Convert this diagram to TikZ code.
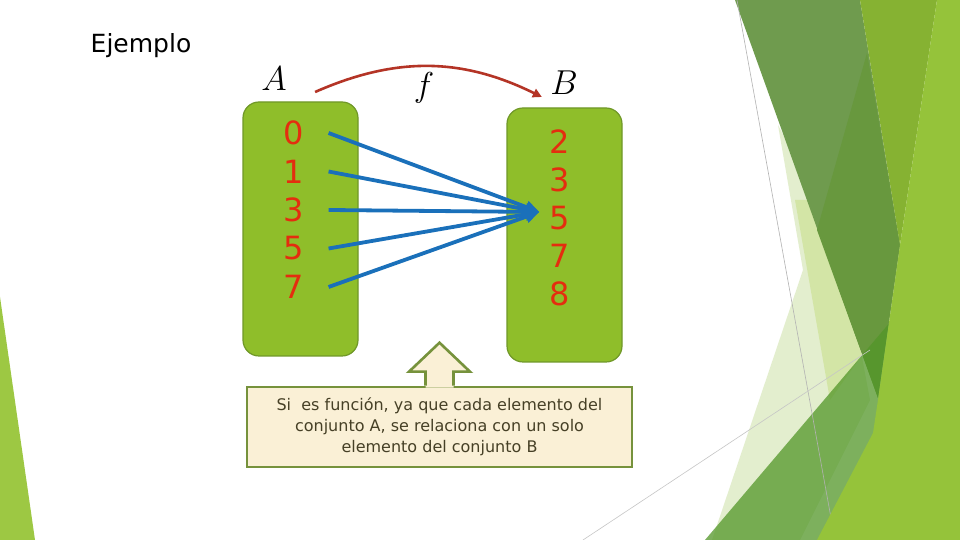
\documentclass[tikz,border=0pt]{standalone}
\usepackage{fontspec}
\setmainfont{DejaVu Sans}
\usetikzlibrary{arrows.meta,
positioning,
calc}

\definecolor{setgreen}{RGB}{143,190,42}
\definecolor{setborder}{RGB}{112,152,40}
\definecolor{elemred}{RGB}{228,45,15}
\definecolor{mapblue}{RGB}{26,112,186}
\definecolor{funred}{RGB}{180,52,38}
\definecolor{notefill}{RGB}{250,240,214}
\definecolor{noteborder}{RGB}{118,146,60}
\definecolor{notetext}{RGB}{70,64,38}
% slide decoration
\definecolor{decolime}{RGB}{149,195,58}
\definecolor{decoleft}{RGB}{157,200,67}
\definecolor{decopale}{RGB}{227,238,206}
\definecolor{decopaleb}{RGB}{211,229,166}
\definecolor{decodark}{RGB}{111,155,78}
\definecolor{decodarkb}{RGB}{104,152,62}
\definecolor{deco olive}{RGB}{134,178,50}
\definecolor{decomid}{RGB}{82,150,40}

\begin{document}
\begin{tikzpicture} [x = .5pt, y = .5pt,
  set box/.style={rectangle, rounded corners = 8pt, draw = setborder,
      line width = .6pt, fill = setgreen,
      minimum width = 57.5pt, minimum height = 127pt},
  elem/.style={text = elemred, inner sep = 1pt,
      font = \fontsize{16}{19}\selectfont},
  set label/.style={inner sep = 0pt, font = \fontsize{17}{19}\selectfont},
  map arrow/.style={draw = mapblue, line width = 1.9pt,
      -{Triangle[width = 6pt, length = 7pt]}},
  fun arrow/.style={draw = funred, line width = 1.3pt,
      -{Triangle[width = 4.5pt, length = 4.5pt]}},
  note box/.style={rectangle, draw = noteborder, line width = 1.3pt,
      fill = notefill, text = notetext, align = center,
      minimum width = 192.5pt, minimum height = 40pt,
      font = \fontsize{8}{10.5}\selectfont},
  callout line/.style={draw = noteborder, line width = 1.3pt, line join = miter}]

  \useasboundingbox (0,0) rectangle (960,540);
  \fill [white] (0,0) rectangle (960,540);

  % slide background
  \fill [decoleft] (0,243) -- (0,0) -- (35,0) -- cycle;
  \fill [decopale] (778,415) -- (803,270) -- (712,0) -- (800,0) -- (870,140) -- (840,300) -- cycle;
  \fill [decopaleb] (795,340) -- (830,140) -- (862,185) -- (820,340) -- cycle;
  \fill [decodark] (735,540) -- (860,540) -- (900,295) -- (878,142) -- cycle;
  \fill [decodarkb] (867,487) -- (900,295) -- (878,142) -- (817,310) -- cycle;
  \fill [deco olive] (860,540) -- (937,540) -- (900,295) -- cycle;
  \fill [decomid, opacity = .75] (705,0) -- (960,300) -- (960,0) -- cycle;
  \draw [gray!60, line width = .3pt] (737,540) -- (835,0);
  \draw [gray!45, line width = .3pt] (583,0) -- (870,190);
  \fill [decolime] (937,540) -- (960,540) -- (960,0) -- (817,0) -- (873,107) -- (878,140) -- (900,295) -- cycle;

  \node [font = \fontsize{12.5}{15}\selectfont] (title) at (141,494) {Ejemplo};

  \node [set box] (setA) at (300.5,311) {};
  \node [set box] (setB) at (564.5,305) {};

  \node [set label] (lblA) at (274,461) {$A$};
  \node [set label] (lblB) at (564,457) {$B$};
  \node [set label] (lblf) at (424,452) {$f$};

  \foreach \v [count=\i] in {0,1,3,5,7}
    \node [elem] (a\i) at (294,{407-38.5*(\i-1)}) {\v};
  \foreach \v [count=\i] in {2,3,5,7,8}
    \node [elem] (b\i) at (560,{398-38*(\i-1)}) {\v};

  % all of A goes to 5
  \coordinate (hit) at ([xshift=-4pt, yshift=3pt]b3.west);
  \foreach \i in {1,...,5}
    \draw [map arrow] ([xshift=11pt]a\i.east) -- (hit);

  \draw [fun arrow] ([shift={(14pt,-6.5pt)}]lblA.east)
    to [bend left = 25] ([shift={(-4pt,-7pt)}]lblB.west);

  \node [note box] (note) at (439.5,113)
    {Si\ \ es función, ya que cada elemento del\\conjunto A, se relaciona con un solo\\elemento del conjunto B};

  \fill [notefill] ([xshift=-7pt, yshift=-1pt]note.north) -- ++(0,8pt) -- ++(-8.25pt,0)
    -- ([yshift=21.5pt]note.north) -- ++(15.25pt,-14.5pt) -- ++(-8.25pt,0) -- ++(0,-8pt) -- cycle;
  \draw [callout line] ([xshift=-7pt]note.north) -- ++(0,7pt) -- ++(-8.25pt,0)
    -- ([yshift=21.5pt]note.north) -- ++(15.25pt,-14.5pt) -- ++(-8.25pt,0) -- ++(0,-7pt);

\end{tikzpicture}
\end{document}
